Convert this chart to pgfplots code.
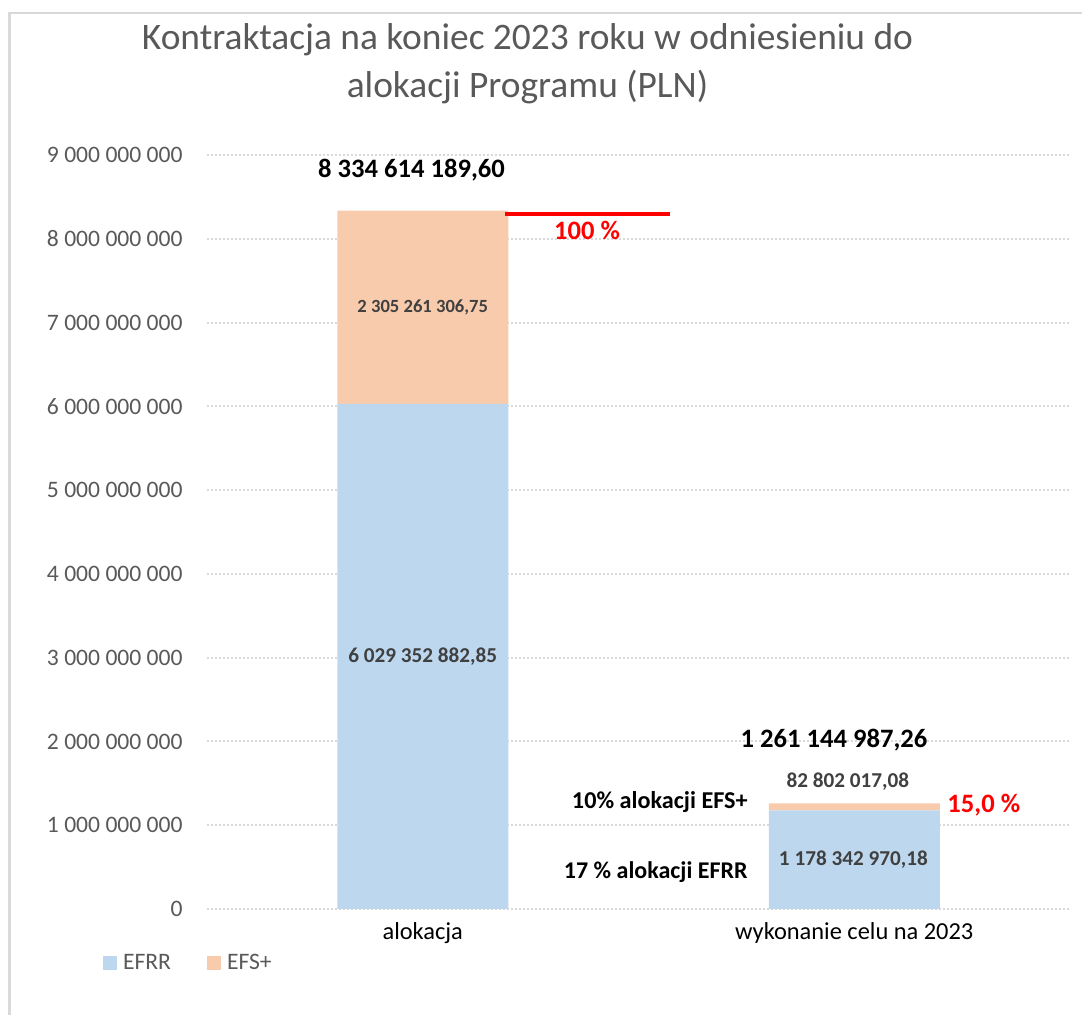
\documentclass[border=0pt]{standalone}
\usepackage{pgfplots}
\pgfplotsset{compat=1.18}
\usepackage{fontspec}
\setmainfont{Carlito}
\definecolor{efrr}{HTML}{BDD7EE}
\definecolor{efs}{HTML}{F8CBAD}
\definecolor{txtgray}{HTML}{595959}
\definecolor{lblgray}{HTML}{404040}
\definecolor{gridgray}{HTML}{D9D9D9}
\definecolor{framegray}{HTML}{D9D9D9}
\newcommand{\fs}[1]{\fontsize{#1}{#1}\selectfont}
\begin{document}
\begin{tikzpicture}[x=1pt,y=1pt]
\path[use as bounding box] (0,0) rectangle (541,507.5);
\draw[framegray, line width=1.2pt] (4.75,0) -- (4.75,501) -- (541,501);
\node[anchor=base, text=txtgray, font=\fs{18.7}] at (263.75,482.5) {Kontraktacja na koniec 2023 roku w odniesieniu do};
\node[anchor=base, text=txtgray, font=\fs{18.7}] at (263.75,458.5) {alokacji Programu (PLN)};
\begin{axis}[
  at={(103.5pt,53pt)}, anchor=south west, scale only axis,
  width=431.5pt, height=377pt,
  ybar stacked, bar width=85.5pt,
  xmin=-0.5, xmax=1.5, ymin=0, ymax=9e9,
  scaled y ticks=false,
  xtick={0,1}, xticklabels={alokacja, wykonanie celu na 2023},
  ytick={0,1e9,2e9,3e9,4e9,5e9,6e9,7e9,8e9,9e9},
  yticklabels={0, 1 000 000 000, 2 000 000 000, 3 000 000 000, 4 000 000 000, 5 000 000 000, 6 000 000 000, 7 000 000 000, 8 000 000 000, 9 000 000 000},
  axis line style={draw=none}, major tick style={draw=none},
  ymajorgrids, grid style={gridgray, line width=1pt, dash pattern=on 1pt off 1pt},
  yticklabel style={font=\fs{11.8}, text=txtgray, anchor=east, inner sep=0pt, xshift=-12pt},
  xticklabel style={font=\fs{12.2}, text=black, anchor=north, inner sep=0pt, yshift=-6.5pt},
  legend columns=2,
  legend style={draw=none, fill=none, at={(axis description cs:-0.1205,-0.0716)}, anchor=west,
    font=\fs{11.8}, text=txtgray, inner sep=0pt, outer sep=0pt,
    nodes={inner sep=0pt},
    /tikz/every odd column/.append style={column sep=3pt},
    /tikz/every even column/.append style={column sep=18pt}},
  legend cell align=left,
  legend image code/.code={\fill[#1] (0pt,-3.5pt) rectangle (7pt,3.5pt);},
  after end axis/.code={
    \node[font=\fs{13.3}\bfseries, text=black] at (axis cs:-0.026,8.82e9) {8 334 614 189,60};
    \node[font=\fs{9.3}\bfseries, text=lblgray] at (axis cs:0,7.182e9) {2 305 261 306,75};
    \node[font=\fs{10.6}\bfseries, text=lblgray] at (axis cs:0,3.0146e9) {6 029 352 882,85};
    \node[font=\fs{10.6}\bfseries, text=lblgray] at (axis cs:0.998,0.589e9) {1 178 342 970,18};
    \node[font=\fs{10.6}\bfseries, text=lblgray] at (axis cs:0.985,1.516e9) {82 802 017,08};
    \node[font=\fs{13.3}\bfseries, text=black] at (axis cs:0.953,2.017e9) {1 261 144 987,26};
    \node[font=\fs{12.1}\bfseries, text=black, anchor=east, inner sep=0pt] at (axis cs:0.7538,1.277e9) {10\% alokacji EFS+};
    \node[font=\fs{12.0}\bfseries, text=black, anchor=east, inner sep=0pt] at (axis cs:0.7538,0.44e9) {17 \% alokacji EFRR};
    \node[font=\fs{13.3}\bfseries, text=red, anchor=west, inner sep=0pt] at (axis cs:1.215,1.24e9) {15,0 \%};
    \node[font=\fs{13.3}\bfseries, text=red] at (axis cs:0.3806,8.1e9) {100 \%};
    \draw[red, line width=2pt] (axis cs:0.1906,8.296e9) -- (axis cs:0.573,8.296e9);
  },
]
\addplot[fill=efrr, draw=none] coordinates {(0,6029352882.85) (1,1178342970.18)};
\addplot[fill=efs, draw=none] coordinates {(0,2305261306.75) (1,82802017.08)};
\legend{EFRR, EFS+}
\end{axis}
\end{tikzpicture}
\end{document}
